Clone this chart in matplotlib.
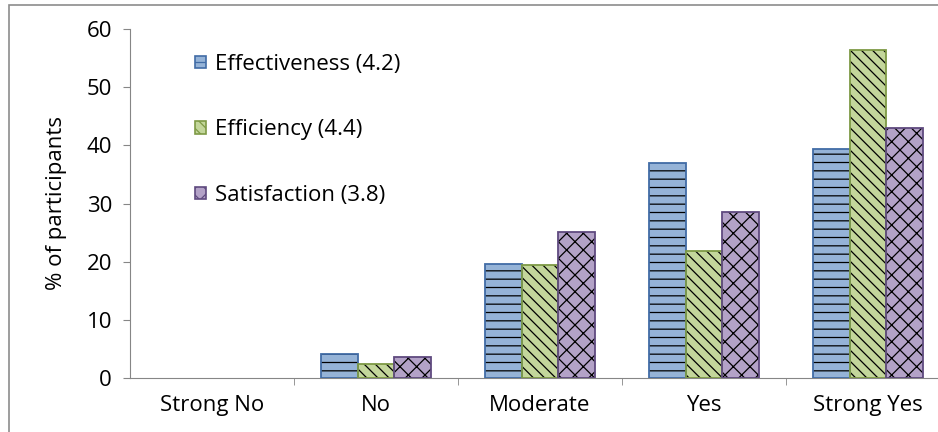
import numpy as np
import matplotlib.pyplot as plt
from matplotlib.patches import Patch, Rectangle

plt.rcParams['font.family'] = ['Open Sans', 'DejaVu Sans']
plt.rcParams['hatch.linewidth'] = 0.9

categories = ['Strong No', 'No', 'Moderate', 'Yes', 'Strong Yes']
effectiveness = [0, 4.2, 19.6, 36.9, 39.3]
efficiency = [0, 2.4, 19.4, 21.8, 56.4]
satisfaction = [0, 3.6, 25.1, 28.5, 43.0]

series = [
    ('Effectiveness (4.2)', effectiveness, '#95b3d7', '#416ca6', '--'),
    ('Efficiency (4.4)', efficiency, '#c3d69b', '#7e9a45', '\\\\\\'),
    ('Satisfaction (3.8)', satisfaction, '#b3a2c7', '#5f4a7f', 'xx'),
]

fig = plt.figure(figsize=(9.38, 4.32), dpi=100)
# outer chart border
fig.patches.append(Rectangle((9 / 938, -0.1), 1.2, 1.1 - 5 / 432, transform=fig.transFigure,
                             fill=False, edgecolor='#8c8c8c', linewidth=1.2))
ax = fig.add_axes([130 / 938, 54 / 432, 820 / 938, 349 / 432])

ind = np.arange(len(categories))
w = 0.224
handles = []
for i, (name, vals, fc, ec, hatch) in enumerate(series):
    x = ind + (i - 1) * w
    vals = np.asarray(vals)
    nz = vals > 0
    ax.bar(x[nz], vals[nz], w, color=fc, edgecolor='black', linewidth=0, hatch=hatch, zorder=2)
    ax.bar(x[nz], vals[nz], w, fill=False, edgecolor=ec, linewidth=1.3, zorder=3)
    handles.append(Patch(facecolor=fc, edgecolor=ec, hatch=hatch, linewidth=1.2))

ax.set_xlim(-0.5, len(categories) - 0.5)
ax.set_ylim(0, 60)
ax.set_yticks(range(0, 61, 10))
ax.set_xticks(ind)
ax.set_xticklabels(categories)
ax.set_xticks(ind[:-1] + 0.5, minor=True)
ax.tick_params(axis='x', which='major', length=0, labelsize=16, pad=12)
ax.tick_params(axis='x', which='minor', length=5, color='#868686')
ax.tick_params(axis='y', length=5, color='#868686', labelsize=16, pad=8)
for s in ['top', 'right']:
    ax.spines[s].set_visible(False)
for s in ['left', 'bottom']:
    ax.spines[s].set_color('#868686')
ax.set_ylabel('% of participants', fontsize=16, labelpad=14)

ax.legend(handles, [s[0] for s in series], loc='upper left',
          bbox_to_anchor=(195 / 938, 1 - 54 / 432), bbox_transform=fig.transFigure,
          frameon=False, fontsize=16, labelspacing=2.0, handlelength=0.5, handleheight=0.5,
          handletextpad=0.4, borderpad=0, borderaxespad=0)

plt.savefig('out.png', dpi=100)
plt.close()
